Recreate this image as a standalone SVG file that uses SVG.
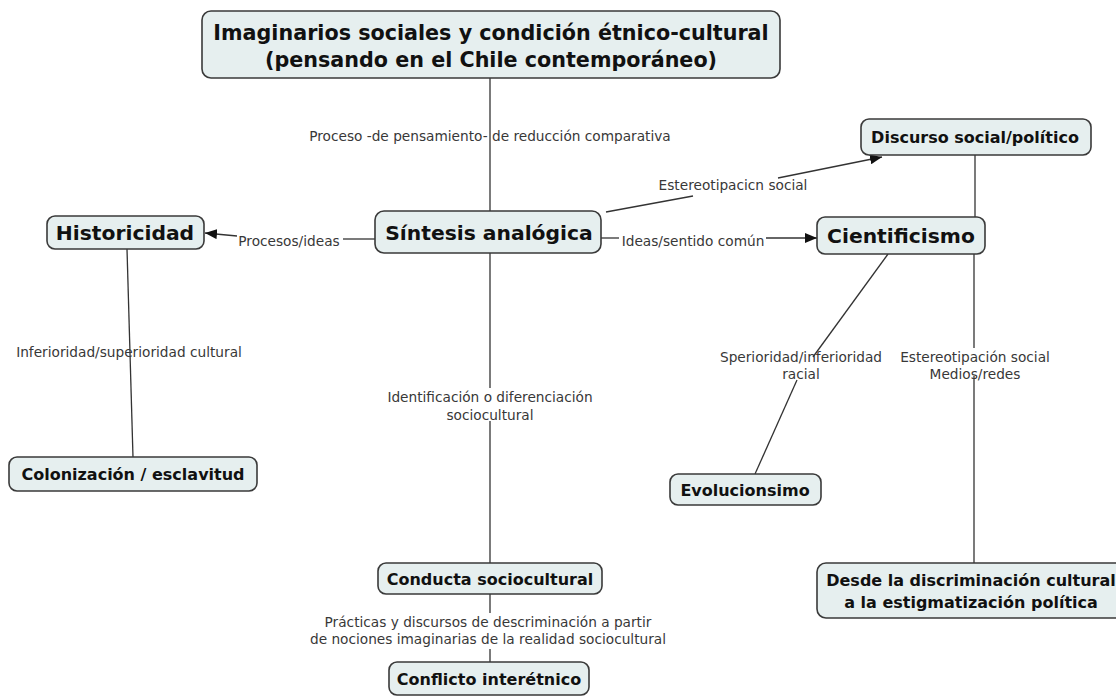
<svg xmlns="http://www.w3.org/2000/svg" width="1116" height="700" viewBox="0 0 1116 700">
<defs>
<marker id="arr" viewBox="0 0 12 10" refX="12" refY="5" markerWidth="12" markerHeight="10" markerUnits="userSpaceOnUse" orient="auto">
<path d="M0,0 L12,5 L0,10 z" fill="#111"/>
</marker>
<style>
.box{fill:#e6efef;stroke:#3a3a3a;stroke-width:1.6}
.big{font-family:"DejaVu Sans",Verdana,sans-serif;font-weight:bold;font-size:20.3px;fill:#111;text-anchor:middle}
.ttl{font-size:20.7px}
.med{font-family:"DejaVu Sans",Verdana,sans-serif;font-weight:bold;font-size:16px;fill:#111;text-anchor:middle}
.lbl{font-family:"DejaVu Sans",Verdana,sans-serif;font-size:13.7px;fill:#383838;text-anchor:middle}
.ln{stroke:#333;stroke-width:1.3;fill:none}
</style>
</defs>
<rect width="1116" height="700" fill="#fff"/>
<g id="connectors">
<line class="ln" x1="490" y1="78" x2="490" y2="211"/>
<line class="ln" x1="375" y1="239" x2="343" y2="239"/>
<line class="ln" x1="237" y1="236" x2="205" y2="233" marker-end="url(#arr)"/>
<line class="ln" x1="606" y1="212" x2="693" y2="196"/>
<line class="ln" x1="778" y1="178" x2="882" y2="157" marker-end="url(#arr)"/>
<line class="ln" x1="601" y1="238" x2="619" y2="238"/>
<line class="ln" x1="766" y1="238" x2="817" y2="238" marker-end="url(#arr)"/>
<line class="ln" x1="975" y1="155" x2="975" y2="217"/>
<line class="ln" x1="127" y1="249" x2="133" y2="457"/>
<line class="ln" x1="490" y1="253" x2="490" y2="388"/>
<line class="ln" x1="490" y1="421" x2="490" y2="563"/>
<line class="ln" x1="888" y1="254" x2="813" y2="357"/>
<line class="ln" x1="797" y1="380" x2="755" y2="474"/>
<line class="ln" x1="974" y1="254" x2="974" y2="348"/>
<line class="ln" x1="974" y1="376" x2="974" y2="563"/>
<line class="ln" x1="490" y1="594" x2="490" y2="613"/>
<line class="ln" x1="490" y1="649" x2="490" y2="662"/>
<text class="lbl" x="490" y="141">Proceso -de pensamiento- de reducción comparativa</text>
<text class="lbl" x="289" y="246">Procesos/ideas</text>
<text class="lbl" x="693" y="246">Ideas/sentido común</text>
<text class="lbl" x="733" y="190">Estereotipacicn social</text>
<text class="lbl" x="129" y="357">Inferioridad/superioridad cultural</text>
<text class="lbl" x="490" y="402">Identificación o diferenciación</text>
<text class="lbl" x="490" y="420">sociocultural</text>
<text class="lbl" x="801" y="362">Sperioridad/inferioridad</text>
<text class="lbl" x="801" y="379">racial</text>
<text class="lbl" x="975" y="362">Estereotipación social</text>
<text class="lbl" x="975" y="379">Medios/redes</text>
<text class="lbl" x="488" y="627">Prácticas y discursos de descriminación a partir</text>
<text class="lbl" x="488" y="644">de nociones imaginarias de la realidad sociocultural</text>
</g>
<g id="n-title">
<rect class="box" x="202" y="11" width="578" height="67" rx="9"/>
<text class="big ttl" x="491" y="40">Imaginarios sociales y condición étnico-cultural</text>
<text class="big ttl" x="491" y="67">(pensando en el Chile contemporáneo)</text>
</g>
<g id="n-sintesis">
<rect class="box" x="375" y="211" width="226" height="42" rx="9"/>
<text class="big" x="489" y="240">Síntesis analógica</text>
</g>
<g id="n-historicidad">
<rect class="box" x="47" y="216" width="157" height="33" rx="8"/>
<text class="big" x="125" y="240">Historicidad</text>
</g>
<g id="n-discurso">
<rect class="box" x="861" y="119" width="230" height="36" rx="8"/>
<text class="med" x="975" y="143">Discurso social/político</text>
</g>
<g id="n-cientificismo">
<rect class="box" x="817" y="217" width="168" height="37" rx="8"/>
<text class="big" x="901" y="243">Cientificismo</text>
</g>
<g id="n-colonizacion">
<rect class="box" x="9" y="457" width="248" height="34" rx="8"/>
<text class="med" x="133" y="480">Colonización / esclavitud</text>
</g>
<g id="n-evolucionsimo">
<rect class="box" x="670" y="474" width="151" height="31" rx="8"/>
<text class="med" x="745" y="496">Evolucionsimo</text>
</g>
<g id="n-conducta">
<rect class="box" x="378" y="563" width="224" height="31" rx="8"/>
<text class="med" x="490" y="585">Conducta sociocultural</text>
</g>
<g id="n-conflicto">
<rect class="box" x="389" y="662" width="200" height="33" rx="8"/>
<text class="med" x="489" y="685">Conflicto interétnico</text>
</g>
<g id="n-desde">
<rect class="box" x="817" y="563" width="310" height="55" rx="9"/>
<text class="med" x="971" y="586">Desde la discriminación cultural</text>
<text class="med" x="971" y="608">a la estigmatización política</text>
</g>
</svg>
